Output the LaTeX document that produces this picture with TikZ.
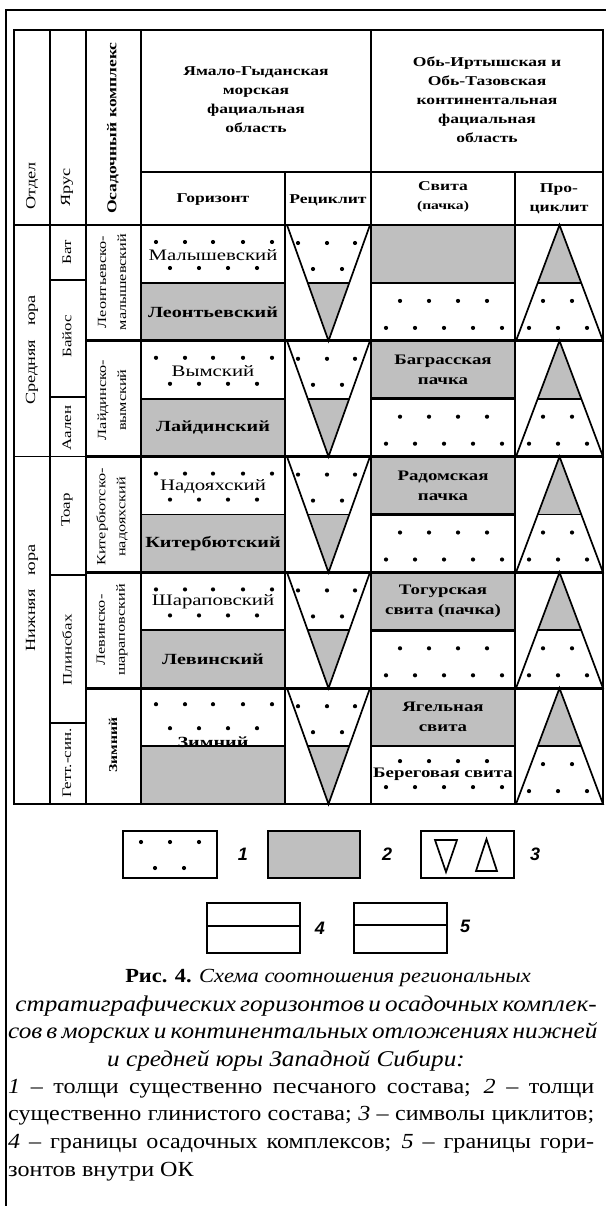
\documentclass[tikz,border=0pt]{standalone}
\usepackage{fontspec}
\setmainfont{Liberation Serif}
\newfontfamily\tabfont[FakeStretch=1.3]{Liberation Serif}
\newfontfamily\capfont[FakeStretch=1.12]{Liberation Serif}
\newfontfamily\legfont{Liberation Sans}
\definecolor{shadegray}{gray}{0.75}
\tikzset{
  thinln/.style={line width=1.7pt},
  thickln/.style={line width=2.7pt},
  hdr/.style={font=\tabfont\bfseries\fontsize{13.5}{19}\selectfont, inner sep=0pt, align=center},
  hdrr/.style={font=\tabfont\fontsize{14}{19}\selectfont, inner sep=0pt, align=center},
  yar/.style={font=\tabfont\fontsize{13}{16}\selectfont, inner sep=0pt, rotate=90},
  okl/.style={font=\tabfont\fontsize{12.5}{20}\selectfont, inner sep=0pt, rotate=90, align=center},
  hz/.style={font=\tabfont\fontsize{16}{19}\selectfont, inner sep=0pt},
  hzb/.style={font=\tabfont\bfseries\fontsize{15.5}{19}\selectfont, inner sep=0pt},
  sv/.style={font=\tabfont\bfseries\fontsize{14.5}{20}\selectfont, inner sep=0pt, align=center},
  captxt/.style={font=\capfont\fontsize{21.5}{26}\selectfont, inner sep=0pt},
  capbig/.style={font=\capfont\fontsize{22.5}{26}\selectfont, inner sep=0pt},
  capsmall/.style={font=\capfont\fontsize{20}{26}\selectfont, inner sep=0pt},
  leglab/.style={font=\legfont\bfseries\itshape\fontsize{18}{20}\selectfont, inner sep=0pt},
  pdot/.style={fill=black},
}
\begin{document}
\begin{tikzpicture}[x=1pt,y=-1pt]
\useasboundingbox (0,0) rectangle (606,1206);
\fill[white] (0,0) rectangle (606,1206);

% ---------- complexes ----------
\foreach \yt/\da/\db/\sa/\sb in {225/17/43/18/45, 340.8/17/43/18/45, 456.6/17/43/18/45, 572.4/17/43/18/45, 688.2/16/40/15/41} {
  \pgfmathsetmacro\ymid{\yt+57.9}
  \pgfmathsetmacro\ybot{\yt+115.8}
  % shaded fills
  \fill[shadegray] (141,\ymid) rectangle (285,\ybot);
  \fill[shadegray] (371,\yt) rectangle (515,\ymid);
  \fill[shadegray] (307.75,\ymid) -- (349.25,\ymid) -- (328.5,\ybot) -- cycle;
  \fill[shadegray] (559.5,\yt) -- (581.25,\ymid) -- (537.75,\ymid) -- cycle;
  % dots: horizon column
  \foreach \xx in {156,185,213,243,272} \fill[pdot] ({\xx},{\yt+\da}) circle[radius=2.1];
  \foreach \xx in {170,199,228,257} \fill[pdot] ({\xx},{\yt+\db}) circle[radius=2.1];
  % dots: recyclite
  \foreach \xx in {298,327,355} \fill[pdot] ({\xx},{\yt+18}) circle[radius=2.1];
  \foreach \xx in {313,342} \fill[pdot] ({\xx},{\yt+44}) circle[radius=2.1];
  % dots: svita
  \foreach \xx in {400,429,458,487} \fill[pdot] ({\xx},{\ymid+\sa}) circle[radius=2.1];
  \foreach \xx in {386,415,444,473,502} \fill[pdot] ({\xx},{\ymid+\sb}) circle[radius=2.1];
  % dots: procyclite
  \foreach \xx in {543,572} \fill[pdot] ({\xx},{\ymid+18}) circle[radius=2.1];
  \foreach \xx in {529,558,587} \fill[pdot] ({\xx},{\ymid+45}) circle[radius=2.1];
  % triangles
  \draw[thinln, line join=miter] (287,\yt) -- (370,\yt) -- (328.5,\ybot) -- cycle;
  \draw[thinln] (307.75,\ymid) -- (349.25,\ymid);
  \draw[thinln, line join=miter] (559.5,\yt) -- (603,\ybot) -- (516,\ybot) -- cycle;
  \draw[thinln] (537.75,\ymid) -- (581.25,\ymid);
  % horizon boundaries
  \draw[thinln] (141,\ymid) -- (285,\ymid);
  \draw[thickln] (371,\ymid) -- (515,\ymid);
  % complex boundary
  \draw[thickln] (86,\yt) -- (603,\yt);
}

% ---------- grid ----------
\draw[thickln] (14,30) rectangle (603,804);
\draw[thickln] (14,225) -- (603,225);
\draw[thinln] (141,172) -- (603,172);
\foreach \xx in {50,86,141,371} \draw[thinln] (\xx,30) -- (\xx,804);
\foreach \xx in {285,515} \draw[thinln] (\xx,172) -- (\xx,804);
\draw[thinln] (14,456.6) -- (50,456.6);
\foreach \yy in {280,397,456.6,575,723} \draw[thinln] (50,\yy) -- (86,\yy);

% outer frame
\draw[line width=2pt] (6,1206) -- (6,10) -- (606,10);

% ---------- header ----------
\node[hdr] (h1) at (256,100) {Ямало-Гыданская\\морская\\фациальная\\область};
\node[hdr] (h2) at (487,100) {Обь-Иртышская и\\Обь-Тазовская\\континентальная\\фациальная\\область};
\node[hdr] (h3) at (213,200) {Горизонт};
\node[hdr] (h4) at (328,200) {Рециклит};
\node[hdr] (h5) at (443,197) {Свита\\{\fontsize{12}{14}\selectfont(пачка)}};
\node[hdr] (h6) at (559,199) {Про-\\циклит};
\node[hdrr, rotate=90, anchor=west] (h7) at (32,210) {Отдел};
\node[hdrr, rotate=90, anchor=west] (h8) at (67,207) {Ярус};
\node[hdr, rotate=90] (h9) at (113,128) {Осадочный комплекс};

% ---------- left columns ----------
\node[yar, font=\tabfont\fontsize{14}{16}\selectfont] (o1) at (32,350) {Средняя\quad юра};
\node[yar, font=\tabfont\fontsize{14}{16}\selectfont] (o2) at (32,598) {Нижняя\quad юра};
\node[yar] (y1) at (67,252) {Бат};
\node[yar] (y2) at (67,336) {Байос};
\node[yar] (y3) at (67,428) {Аален};
\node[yar] (y4) at (67,510) {Тоар};
\node[yar] (y5) at (67,650) {Плинсбах};
\node[yar] (y6) at (67,763) {Гетт.-син.};
\node[okl] (k1) at (112,282) {Леонтьевско-\\малышевский};
\node[okl] (k2) at (112,400) {Лайдинско-\\вымский};
\node[okl] (k3) at (112,517) {Китербютско-\\надояхский};
\node[okl] (k4) at (112,630) {Левинско-\\шараповский};
\node[okl, font=\tabfont\bfseries\fontsize{12}{20}\selectfont] (k5) at (113,745) {Зимний};

% ---------- horizons ----------
\node[hz] (g1) at (213,255) {Малышевский};
\node[hzb] (g2) at (213,312) {Леонтьевский};
\node[hz] (g3) at (213,371) {Вымский};
\node[hzb] (g4) at (213,428) {Лайдинский};
\node[hz] (g5) at (213,487) {Надояхский};
\node[hzb] (g6) at (213,544) {Китербютский};
\node[hz] (g7) at (213,602) {Шараповский};
\node[hzb] (g8) at (213,659) {Левинский};
\node[hzb] (g9) at (213,742) {Зимний};

% ---------- svity ----------
\node[sv] (s1) at (443,370) {Баграсская\\пачка};
\node[sv] (s2) at (443,486) {Радомская\\пачка};
\node[sv] (s3) at (443,601) {Тогурская\\свита (пачка)};
\node[sv] (s4) at (443,717) {Ягельная\\свита};
\node[sv] (s5) at (443,774) {Береговая свита};

% ---------- legend ----------
\draw[thinln] (123,831) rectangle (217,878);
\foreach \xx/\yy in {141/842,170/842,199/842,155/868,184/868} \fill[pdot] (\xx,\yy) circle[radius=2.1];
\node[leglab] (l1) at (243,854) {1};
\draw[thinln, fill=shadegray] (268,831) rectangle (360,878);
\node[leglab] (l2) at (387,854) {2};
\draw[thinln] (421,831) rectangle (514,878);
\draw[thinln, line join=miter] (435,840) -- (457,840) -- (446,872) -- cycle;
\draw[thinln, line join=miter] (476,871) -- (497,871) -- (486.5,839) -- cycle;
\node[leglab] (l3) at (535,854) {3};
\draw[thinln] (207,903) rectangle (300,953);
\draw[thickln] (207,926) -- (300,926);
\node[leglab] (l4) at (320,928) {4};
\draw[thinln] (354,903) rectangle (447,953);
\draw[thinln] (354,925) -- (447,925);
\node[leglab] (l5) at (465,926) {5};

% ---------- caption ----------
\node[capsmall] (c1) at (328,978) {\textbf{Рис. 4.} \textit{Схема соотношения региональных}};
\node[capbig] (c2) at (303,1006) {\makebox[575pt][s]{\itshape стратиграфических горизонтов и осадочных комплек-}};
\node[capbig, anchor=west] (c3) at (8,1033) {\makebox[586pt][s]{\itshape сов в морских и континентальных отложениях нижней}};
\node[capbig] (c4) at (286,1061) {\itshape и средней юры Западной Сибири:};
\node[captxt, anchor=west] (c5) at (8,1089) {\makebox[586pt][s]{\textit{1} – толщи существенно песчаного состава; \textit{2} – толщи}};
\node[captxt, anchor=west] (c6) at (8,1116) {\makebox[586pt][s]{существенно глинистого состава; \textit{3} – символы циклитов;}};
\node[captxt, anchor=west] (c7) at (8,1144) {\makebox[586pt][s]{\textit{4} – границы осадочных комплексов; \textit{5} – границы гори-}};
\node[captxt, anchor=west] (c8) at (8,1172) {зонтов внутри ОК};
\end{tikzpicture}
\end{document}
